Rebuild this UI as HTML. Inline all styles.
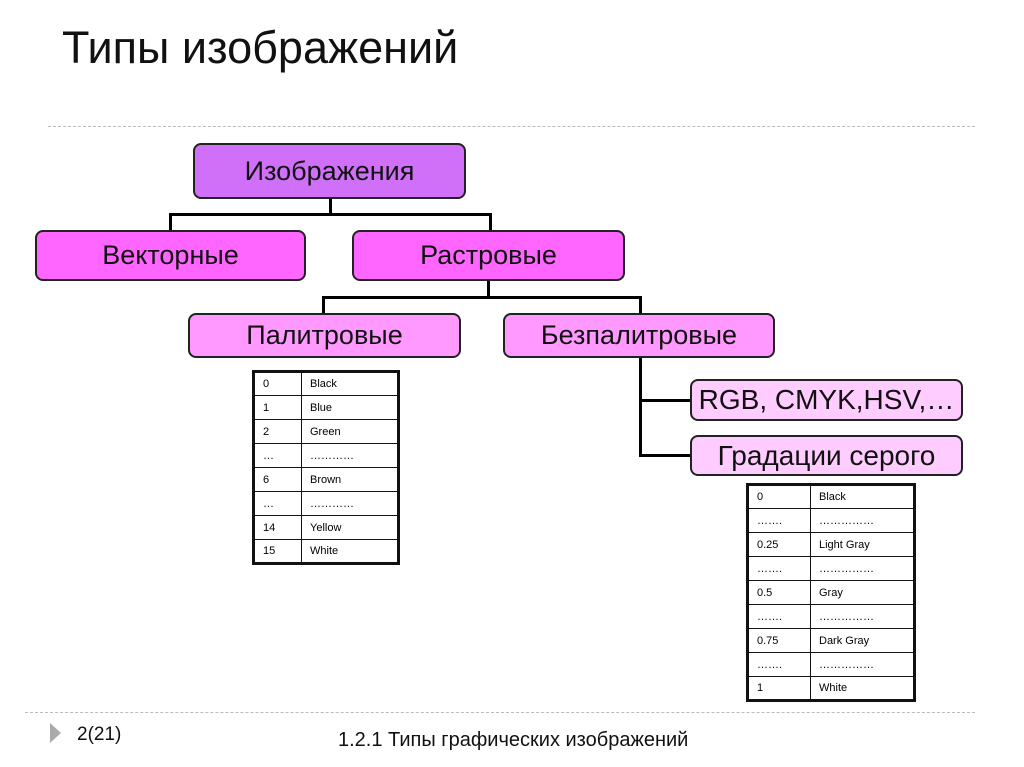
<!DOCTYPE html>
<html><head><meta charset="utf-8"><style>
body{margin:0;width:1024px;height:767px;background:#fff;position:relative;overflow:hidden;font-family:"Liberation Sans",sans-serif;}
.a{position:absolute}
.box{position:absolute;border:2px solid #222;border-radius:8px;box-sizing:border-box;display:flex;align-items:center;justify-content:center;font-size:27px;color:#111;}
.l{position:absolute;background:#000}
table{position:absolute;border-collapse:collapse;border:3px solid #111;font-size:11px;}
td{border:1.5px solid #111;height:24px;padding:0 0 0 8px;box-sizing:border-box;}
</style></head><body>
<div class="a" style="left:62px;top:22px;font-size:45px;color:#111">Типы изображений</div>
<div class="a" style="left:48px;top:126px;width:927px;border-top:1px dashed #bbb"></div>

<div class="l" style="left:329px;top:199px;width:3px;height:16px"></div>
<div class="l" style="left:169px;top:213px;width:323px;height:3px"></div>
<div class="l" style="left:169px;top:213px;width:3px;height:18px"></div>
<div class="l" style="left:489px;top:213px;width:3px;height:18px"></div>
<div class="l" style="left:487px;top:281px;width:3px;height:17px"></div>
<div class="l" style="left:322px;top:296px;width:320px;height:3px"></div>
<div class="l" style="left:322px;top:296px;width:3px;height:18px"></div>
<div class="l" style="left:639px;top:296px;width:3px;height:18px"></div>
<div class="l" style="left:639px;top:358px;width:3px;height:99px"></div>
<div class="l" style="left:639px;top:399px;width:52px;height:3px"></div>
<div class="l" style="left:639px;top:454px;width:52px;height:3px"></div>

<div class="box" style="left:193px;top:143px;width:273px;height:56px;background:#d070f8">Изображения</div>
<div class="box" style="left:35px;top:230px;width:271px;height:51px;background:#ff66ff">Векторные</div>
<div class="box" style="left:352px;top:230px;width:273px;height:51px;background:#ff66ff">Растровые</div>
<div class="box" style="left:188px;top:313px;width:273px;height:45px;background:#ff99ff">Палитровые</div>
<div class="box" style="left:503px;top:313px;width:272px;height:45px;background:#ff99ff">Безпалитровые</div>
<div class="box" style="left:690px;top:379px;width:273px;height:42px;background:#ffccff;font-size:28px">RGB, CMYK,HSV,…</div>
<div class="box" style="left:690px;top:435px;width:273px;height:41px;background:#ffccff;font-size:28px">Градации серого</div>

<table style="left:252px;top:370px;width:148px">
<tr><td style="width:48px">0</td><td>Black</td></tr>
<tr><td>1</td><td>Blue</td></tr>
<tr><td>2</td><td>Green</td></tr>
<tr><td>…</td><td>…………</td></tr>
<tr><td>6</td><td>Brown</td></tr>
<tr><td>…</td><td>…………</td></tr>
<tr><td>14</td><td>Yellow</td></tr>
<tr><td>15</td><td>White</td></tr>
</table>
<table style="left:746px;top:483px;width:170px">
<tr><td style="width:63px">0</td><td>Black</td></tr>
<tr><td>…….</td><td>……………</td></tr>
<tr><td>0.25</td><td>Light Gray</td></tr>
<tr><td>…….</td><td>……………</td></tr>
<tr><td>0.5</td><td>Gray</td></tr>
<tr><td>…….</td><td>……………</td></tr>
<tr><td>0.75</td><td>Dark Gray</td></tr>
<tr><td>…….</td><td>……………</td></tr>
<tr><td>1</td><td>White</td></tr>
</table>

<div class="a" style="left:25px;top:712px;width:950px;border-top:1px dashed #bbb"></div>
<div class="a" style="left:50px;top:723px;width:0;height:0;border-left:11px solid #aaa;border-top:10px solid transparent;border-bottom:10px solid transparent"></div>
<div class="a" style="left:77px;top:724px;font-size:19px;color:#111">2(21)</div>
<div class="a" style="left:338px;top:729px;font-size:20px;color:#111">1.2.1 Типы графических изображений</div>
</body></html>
